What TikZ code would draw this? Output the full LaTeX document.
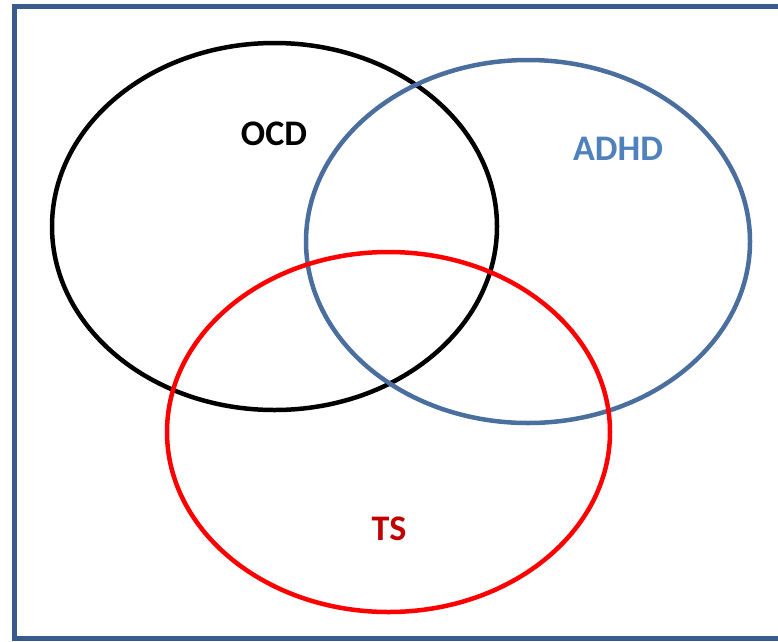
\documentclass[tikz,border=0pt]{standalone}
\usepackage{fontspec}
\setmainfont{Carlito}
\usetikzlibrary{shapes.geometric}
\definecolor{frameblue}{RGB}{56,93,138}
\definecolor{adhdline}{RGB}{74,111,159}
\definecolor{adhdtext}{RGB}{79,129,189}
\definecolor{tstext}{RGB}{192,0,0}
\tikzset{
  setring/.style={ellipse, draw, line width=4.5pt, inner sep=0pt, minimum width=#1},
  setlabel/.style={font=\fontsize{36}{40}\selectfont\bfseries, inner sep=0pt}
}
\begin{document}
\begin{tikzpicture}[x=1pt,y=-1pt]
\useasboundingbox (0,0) rectangle (778,641);
\fill[white] (0,0) rectangle (778,641);
\draw[frameblue, line width=5pt] (14.5,6.5) rectangle (800,638.5);
\node[setring=445pt, minimum height=367pt, draw=black] (ocd) at (274.5,226.5) {};
\node[setring=444pt, minimum height=363pt, draw=adhdline] (adhd) at (528,241.5) {};
\node[setring=443pt, minimum height=360pt, draw=red] (ts) at (388.5,432) {};
\node[setlabel, text=black] (ocdlabel) at (274,134) {OCD};
\node[setlabel, text=adhdtext] (adhdlabel) at (618,149) {ADHD};
\node[setlabel, text=tstext] (tslabel) at (389,529) {TS};
\end{tikzpicture}
\end{document}
